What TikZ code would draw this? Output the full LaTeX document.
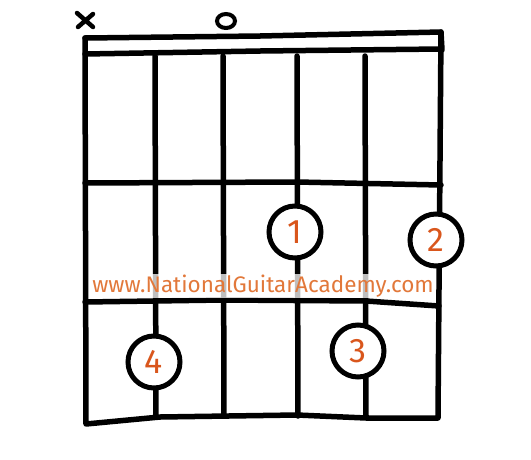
\documentclass[tikz,border=0pt]{standalone}
\usepackage{fontspec}
\setmainfont{Fira Sans}
\usetikzlibrary{positioning}
\definecolor{fingerorange}{HTML}{D9561C}
\definecolor{siteorange}{HTML}{E2783A}
\tikzstyle{grid} = [line width=5.5pt, line cap=round, line join=round]
\tikzstyle{finger} = [circle, draw, line width=5pt, fill=white, minimum size=52pt, inner sep=0pt, text=fingerorange, font=\fontsize{34}{34}\selectfont]

\begin{document}
\begin{tikzpicture}[x=1pt, y=-1pt]
  \useasboundingbox (0,0) rectangle (531,459);

  % Nut
  \draw[grid] (85,38) -- (260,36) -- (441,32) -- (442,50);
  \draw[grid] (85,54) -- (260,51) -- (441,49);

  % Outer frame
  \draw[grid] (85,38) -- (86,424) -- (160,417) -- (297,415) -- (366,418) -- (438,418) -- (441,32);

  % Strings
  \foreach \x in {155,223,297,365}
    \draw[grid] (\x,56) -- (\x+1,416);

  % Frets
  \draw[grid] (85,183) -- (297,182) -- (441,185);
  \draw[grid] (85,302) -- (223,300) -- (366,301) -- (439,306);

  % Muted and open strings
  \draw[line width=4.5pt, line cap=round] (77,13) -- (93,27) (78,27) -- (93,14);
  \draw[line width=4pt] (226,21) ellipse [x radius=9pt, y radius=7pt];

  % Watermark
  \node[fill=white, fill opacity=0.75, text opacity=1, text=siteorange, inner sep=1pt,
        font=\fontsize{22.5}{22.5}\selectfont] (site) at (263,286) {www.NationalGuitarAcademy.com};

  % Fingers
  \node[finger] (f1) at (295,232) {1};
  \node[finger] (f2) at (436,240) {2};
  \node[finger] (f3) at (358,351) {3};
  \node[finger] (f4) at (154,362) {4};
\end{tikzpicture}
\end{document}
